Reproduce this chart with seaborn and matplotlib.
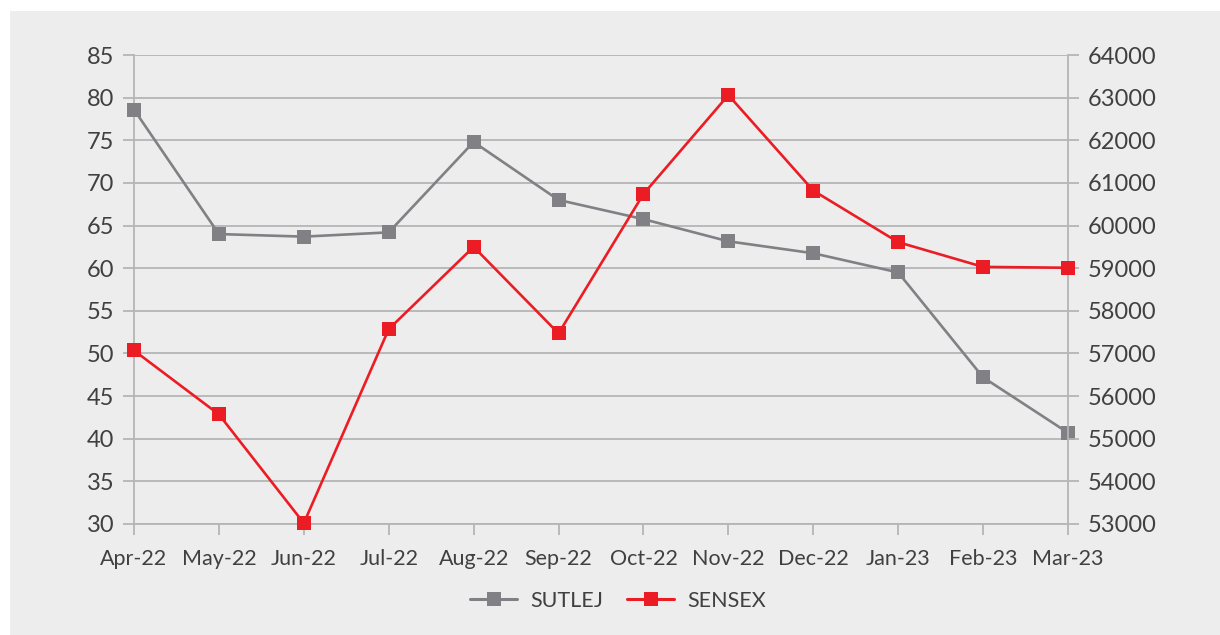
import numpy as np
import pandas as pd
import matplotlib
matplotlib.use("Agg")
import matplotlib.pyplot as plt
from matplotlib.patches import Rectangle
from matplotlib.lines import Line2D
import seaborn as sns

months = ["Apr-22", "May-22", "Jun-22", "Jul-22", "Aug-22", "Sep-22",
          "Oct-22", "Nov-22", "Dec-22", "Jan-23", "Feb-23", "Mar-23"]
sutlej = [78.6, 64.0, 63.7, 64.2, 74.8, 68.0, 65.75, 63.15, 61.75, 59.5, 47.2, 40.7]
sensex = [57070, 55570, 53020, 57570, 59500, 57470, 60740, 63060, 60820, 59610, 59030, 59010]

left_ticks = list(range(30, 90, 5))
right_ticks = list(range(53000, 65000, 1000))

sns.set_theme(style="white")
plt.rcParams["font.family"] = ["Lato", "DejaVu Sans"]

TEXT = "#404040"
GRID = "#b5b5b5"
C_SUT = "#818185"
C_SEN = "#ec1c24"

df = pd.DataFrame({"pos": np.arange(len(months)), "month": months,
                   "SUTLEJ": sutlej, "SENSEX": sensex})

fig = plt.figure(figsize=(12.2, 6.35), dpi=100, facecolor="white")
fig.patches.append(Rectangle((10 / 1220, 0), 1 - 10 / 1220, 1 - 11 / 635,
                             transform=fig.transFigure, facecolor="#ededed",
                             edgecolor="none", zorder=-5))

ax = fig.add_axes([134 / 1220, 1 - 524 / 635, (1068 - 134) / 1220, (524 - 55) / 635])
ax.set_facecolor("none")
ax2 = ax.twinx()
ax2.set_facecolor("none")

sns.lineplot(data=df, x="pos", y="SUTLEJ", ax=ax, color=C_SUT, marker="s",
             markersize=10.5, markeredgewidth=0, linewidth=1.9, zorder=3, clip_on=False)
sns.lineplot(data=df, x="pos", y="SENSEX", ax=ax2, color=C_SEN, marker="s",
             markersize=10.5, markeredgewidth=0, linewidth=1.9, zorder=4, clip_on=False)

ax.set_xlim(0, len(months) - 1)
ax.set_ylim(30, 85)
ax2.set_ylim(53000, 64000)
ax.set_yticks(left_ticks)
ax2.set_yticks(right_ticks)
ax.set_xticks(df["pos"])
ax.set_xticklabels(months)

for a in (ax, ax2):
    a.set_xlabel("")
    a.set_ylabel("")
    for s in a.spines.values():
        s.set_visible(False)

ax.grid(axis="y", color=GRID, linewidth=1.3, zorder=1)
ax.grid(axis="x", visible=False)
ax2.grid(False)
ax.set_axisbelow(True)

ax.spines["left"].set_visible(True)
ax.spines["left"].set_color(GRID)
ax.spines["left"].set_linewidth(1.3)
ax2.spines["right"].set_visible(True)
ax2.spines["right"].set_color(GRID)
ax2.spines["right"].set_linewidth(1.3)
ax.spines["bottom"].set_visible(True)
ax.spines["bottom"].set_color(GRID)
ax.spines["bottom"].set_linewidth(1.3)

ax.tick_params(axis="y", left=True, direction="out", length=8, width=1.3,
               color=GRID, labelsize=17, labelcolor=TEXT, pad=6)
ax.tick_params(axis="x", bottom=True, direction="out", length=8, width=1.3,
               color=GRID, labelsize=15.5, labelcolor=TEXT, pad=10)
ax2.tick_params(axis="y", right=True, direction="out", length=8, width=1.3,
                color=GRID, labelsize=17, labelcolor=TEXT, pad=6)

handles = [Line2D([], [], color=C_SUT, marker="s", markersize=10.5, markeredgewidth=0, linewidth=2.2),
           Line2D([], [], color=C_SEN, marker="s", markersize=10.5, markeredgewidth=0, linewidth=2.2)]
leg = fig.legend(handles, ["SUTLEJ", "SENSEX"], loc="center", bbox_to_anchor=(618 / 1220, 1 - 601 / 635),
                 ncol=2, frameon=False, fontsize=15.5, handlelength=2.2, columnspacing=1.1,
                 handletextpad=0.6)
for t in leg.get_texts():
    t.set_color(TEXT)

fig.savefig("out.png", dpi=100, facecolor="white")
